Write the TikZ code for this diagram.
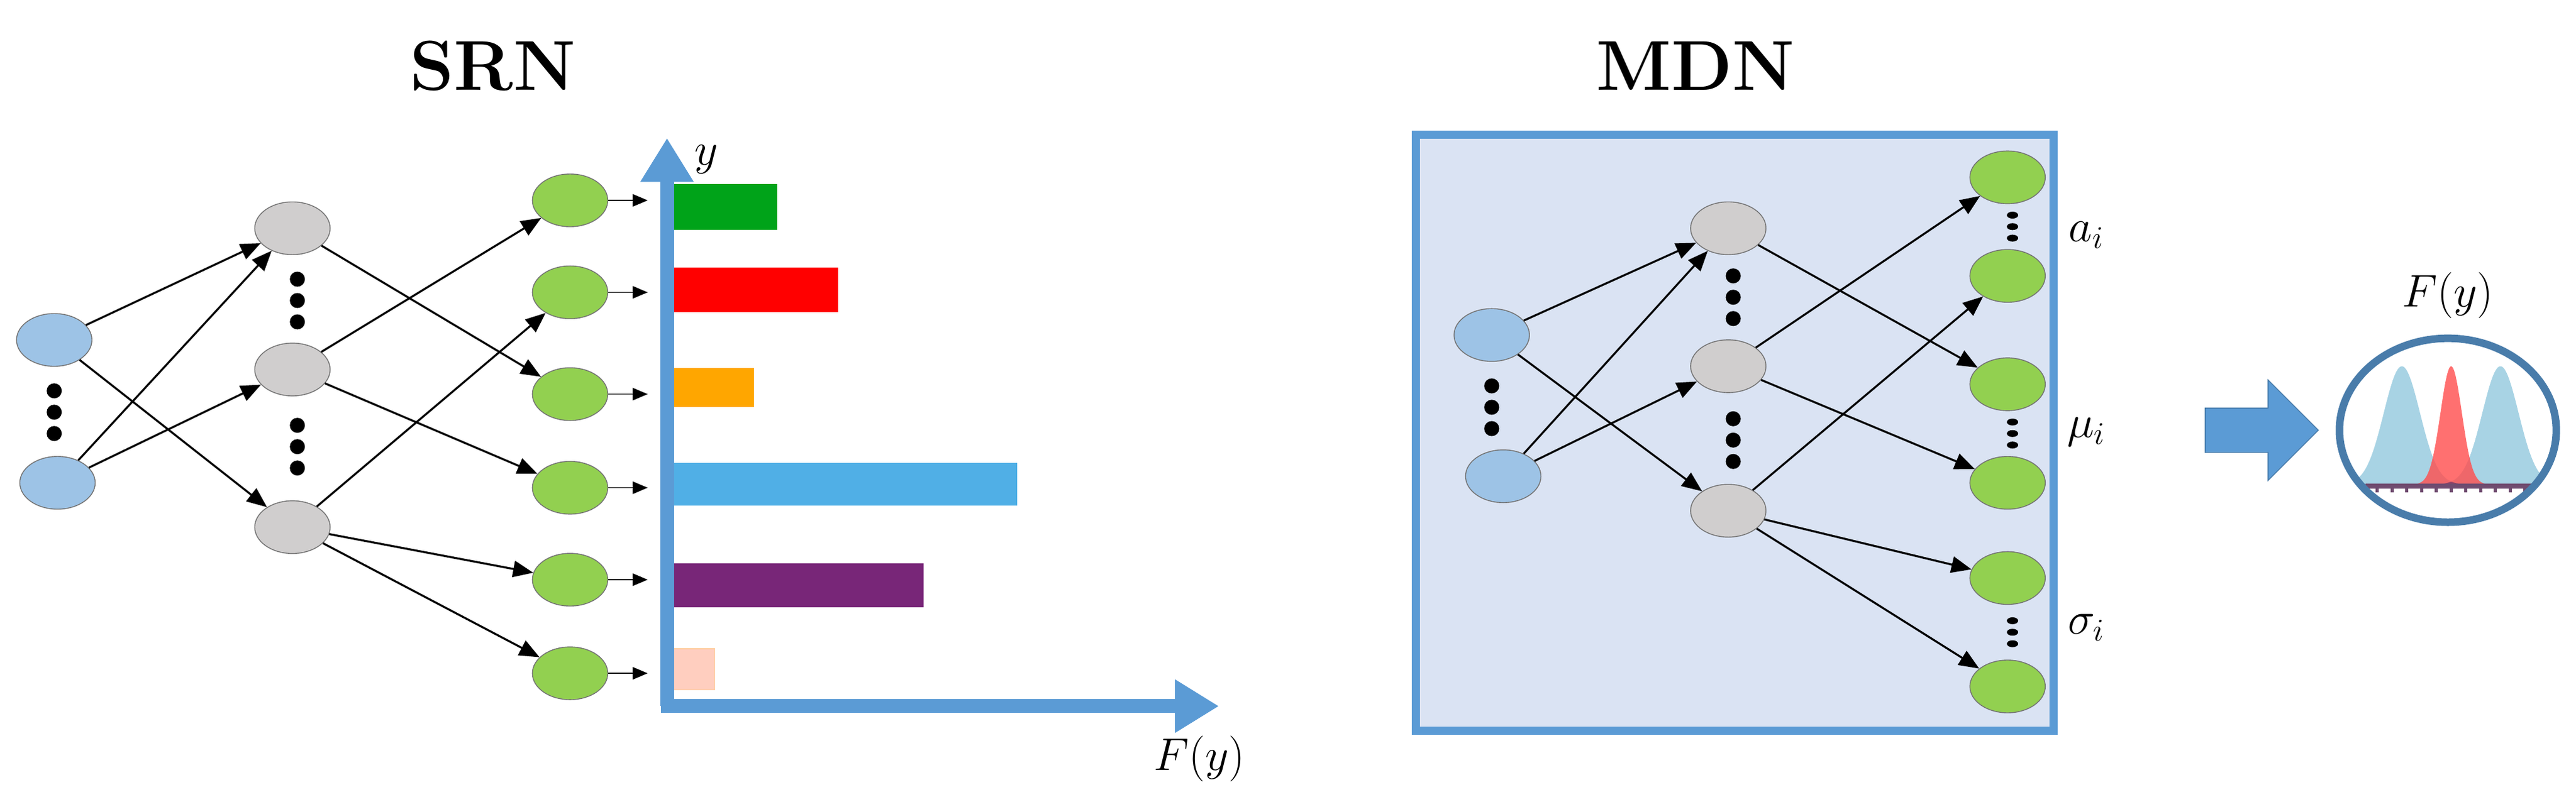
\documentclass[tikz,border=0pt]{standalone}
\usetikzlibrary{arrows.meta,shapes.arrows,shapes.geometric}
\usepackage{amsmath}

\definecolor{inblue}{HTML}{9DC3E6}
\definecolor{hidgray}{HTML}{D0CECE}
\definecolor{outgreen}{HTML}{92D050}
\definecolor{axisblue}{HTML}{5B9BD5}
\definecolor{boxfill}{HTML}{DAE3F3}

\tikzset{
    neuron/.style={ellipse,draw=black!55,thin,minimum width=12mm,minimum height=8.4mm,inner sep=0pt},
    input/.style={neuron,fill=inblue},
    hidden/.style={neuron,fill=hidgray},
    output/.style={neuron,fill=outgreen},
    link/.style={-{Triangle[length=3.2mm,width=2.6mm]},line width=0.9pt},
    bigdot/.style={circle,fill=black,inner sep=0pt,minimum size=2.4mm},
    smalldot/.style={ellipse,fill=black,inner sep=0pt,minimum width=1.8mm,minimum height=1.1mm}
}

\begin{document}
\begin{tikzpicture}[x=0.2615mm,y=-0.2615mm]
    \useasboundingbox (0,0) rectangle (1568,488);

    % titles
    \node[font=\fontsize{32}{36}\selectfont\bfseries] (srn) at (300,40) {SRN};
    \node[font=\fontsize{32}{36}\selectfont\bfseries] (mdn) at (1032,40) {MDN};

    % SRN network
    \begin{scope}
        \node[input] (a1) at (33,207) {};
        \node[input] (a2) at (35,294) {};
        \node[hidden] (b1) at (178,139) {};
        \node[hidden] (b2) at (178,225) {};
        \node[hidden] (b3) at (178,321) {};
        \foreach \i/\y in {1/122,2/178,3/240,4/297,5/353,6/410}
            \node[output] (c\i) at (347,\y) {};
        \foreach \y in {238,251,264} \node[bigdot] at (33,\y) {};
        \foreach \y in {170,183,196,259,272,285} \node[bigdot] at (181,\y) {};
    \end{scope}

    \draw[link] (a1) -- (b1);
    \draw[link] (a1) -- (b3);
    \draw[link] (a2) -- (b1);
    \draw[link] (a2) -- (b2);
    \draw[link] (b1) -- (c3);
    \draw[link] (b2) -- (c1);
    \draw[link] (b2) -- (c4);
    \draw[link] (b3) -- (c2);
    \draw[link] (b3) -- (c5);
    \draw[link] (b3) -- (c6);

    % axes and bars
    \coordinate (origin) at (406,430);
    \coordinate (ytop) at (406,84);
    \coordinate (xend) at (742,430);
    \fill[green!60!black!90!cyan] (406,112) rectangle (473,140);
    \fill[red] (403,163) rectangle (510,190);
    \fill[orange!70!yellow] (407,224) rectangle (459,248);
    \fill[cyan!80!blue!70] (408,282) rectangle (619,308);
    \fill[violet!75!black!85] (403,343) rectangle (562,370);
    \fill[orange!45!red!25!white, draw=orange!40] (409,395) rectangle (435,420);
    \draw[axisblue,line width=2.2mm,-{Triangle[length=7mm,width=8mm]}] (origin) -- (ytop);
    \draw[axisblue,line width=2.2mm,-{Triangle[length=7mm,width=8mm]},shorten <=-1mm] (origin) -- (xend);
    \foreach \i/\y in {1/122,2/178,3/240,4/297,5/353,6/410}
        \draw[-{Triangle[length=2.4mm,width=2mm]},thin] (c\i.east) -- ++(24,0);
    \node[font=\fontsize{20}{24}\selectfont] (ylab) at (430,97) {$y$};
    \node[font=\fontsize{20}{24}\selectfont] (flab) at (730,462) {$F(y)$};

    % MDN box
    \draw[axisblue,fill=boxfill,line width=1.3mm] (862,82) rectangle (1250,445);
    \node[input] (m1) at (908,204) {};
    \node[input] (m2) at (915,290) {};
    \node[hidden] (n1) at (1052,139) {};
    \node[hidden] (n2) at (1052,223) {};
    \node[hidden] (n3) at (1052,311) {};
    \foreach \i/\y in {1/108,2/168,3/234,4/294,5/352,6/418}
        \node[output] (p\i) at (1222,\y) {};
    \foreach \y in {235,248,261} \node[bigdot] at (908,\y) {};
    \foreach \y in {168,181,194,255,268,281} \node[bigdot] at (1055,\y) {};
    \foreach \y in {131,138,145, 257,264,271, 378,385,392} \node[smalldot] at (1225,\y) {};

    \draw[link] (m1) -- (n1);
    \draw[link] (m1) -- (n3);
    \draw[link] (m2) -- (n1);
    \draw[link] (m2) -- (n2);
    \draw[link] (n1) -- (p3);
    \draw[link] (n2) -- (p1);
    \draw[link] (n2) -- (p4);
    \draw[link] (n3) -- (p2);
    \draw[link] (n3) -- (p5);
    \draw[link] (n3) -- (p6);

    \node[font=\fontsize{20}{24}\selectfont] (alab) at (1270,143) {$a_i$};
    \node[font=\fontsize{20}{24}\selectfont] (mlab) at (1270,263) {$\mu_i$};
    \node[font=\fontsize{20}{24}\selectfont] (slab) at (1270,382) {$\sigma_i$};

    % result
    \node[single arrow,fill=axisblue,draw=axisblue!80!black,thin,minimum height=18mm,
          minimum width=16mm,single arrow head extend=2mm,inner sep=1.5mm] (big) at (1370,262) {};
    \node[font=\fontsize{20}{24}\selectfont] (fres) at (1490,180) {$F(y)$};
    \begin{scope}
        \clip (1490,262) ellipse [x radius=66, y radius=56];
        \fill[cyan!45!teal!45!white,opacity=0.85,domain=-45:45,samples=90]
            plot ({1462+\x},{295-72*exp(-(\x/11)^2/2)}) -- cycle;
        \fill[cyan!45!teal!45!white,opacity=0.85,domain=-45:45,samples=90]
            plot ({1522+\x},{295-72*exp(-(\x/11)^2/2)}) -- cycle;
        \fill[red!70!white,opacity=0.8,domain=-30:30,samples=80]
            plot ({1492+\x},{295-72*exp(-(\x/6.5)^2/2)}) -- cycle;
        \fill[violet!50!black!80,opacity=0.7,domain=-26:26,samples=60]
            plot ({1492+\x},{295-min(72*exp(-((\x+30)/11)^2/2),72*exp(-((\x-30)/11)^2/2))}) -- cycle;
        \draw[violet!40!black!70,line width=0.8mm] (1440,296) -- (1545,296);
        \foreach \x in {1447,1456,...,1540} \draw[violet!40!black!70,line width=0.5mm] (\x,296) -- (\x,300);
    \end{scope}
    \draw[axisblue!80!black,line width=1.2mm] (1490,262) ellipse [x radius=66, y radius=56];
\end{tikzpicture}
\end{document}
